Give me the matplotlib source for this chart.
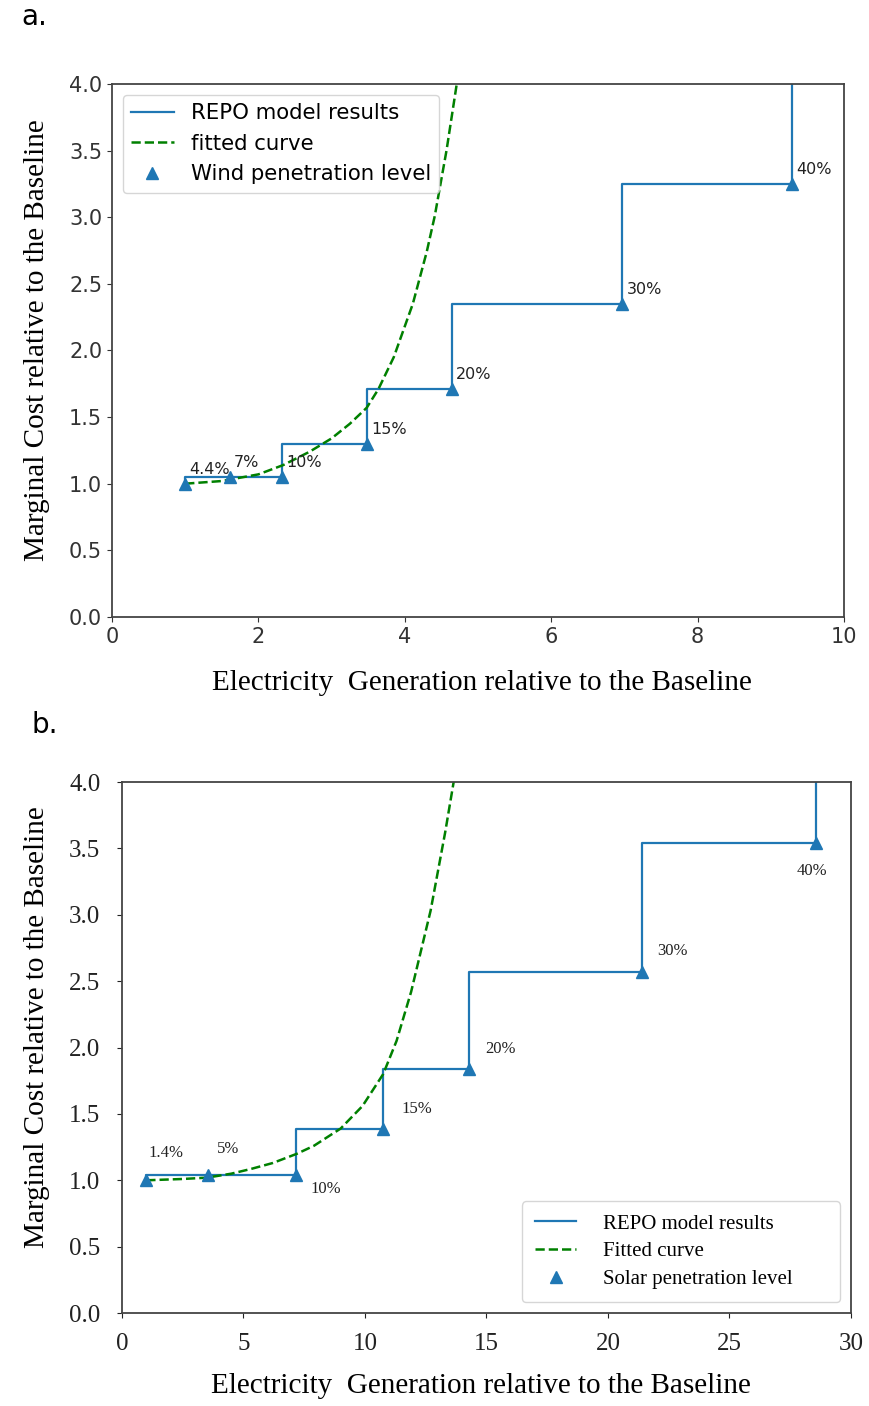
import matplotlib
matplotlib.use('Agg')
import matplotlib.pyplot as plt

# ---- panel a : wind ----
wind_gen = [1.0, 1.61, 2.32, 3.48, 4.64, 6.97, 9.29]
wind_cost = [1.0, 1.05, 1.05, 1.30, 1.71, 2.35, 3.25]
wind_pct = ['4.4%', '7%', '10%', '15%', '20%', '30%', '40%']
wind_next = [11.6, 4.6]          # next step, off the top of the axes

wind_fit_x = [1.0, 1.5, 2.0, 2.34, 2.7, 3.0, 3.25, 3.48, 3.64, 3.85,
              4.11, 4.3, 4.41, 4.57, 4.71, 4.78]
wind_fit_y = [1.0, 1.02, 1.07, 1.14, 1.24, 1.34, 1.45, 1.57, 1.71, 1.95,
              2.35, 2.74, 3.01, 3.5, 4.0, 4.3]

# ---- panel b : solar ----
solar_gen = [1.0, 3.55, 7.15, 10.75, 14.3, 21.4, 28.55]
solar_cost = [1.0, 1.04, 1.04, 1.39, 1.84, 2.57, 3.54]
solar_pct = ['1.4%', '5%', '10%', '15%', '20%', '30%', '40%']
solar_next = [34.0, 4.6]

solar_fit_x = [1.0, 2.5, 3.5, 4.5, 5.3, 6.2, 7.2, 7.9, 9.0, 9.9, 10.75,
               11.3, 11.9, 12.7, 13.3, 13.65, 13.8]
solar_fit_y = [1.0, 1.01, 1.02, 1.05, 1.085, 1.13, 1.20, 1.26, 1.39, 1.56,
               1.80, 2.05, 2.42, 3.03, 3.62, 4.0, 4.2]

BLUE = '#1f77b4'
GREEN = '#008000'
SERIF = 'Liberation Serif'

fig = plt.figure(figsize=(8.7, 14.06), dpi=100)

#========= panel a =========
ax = fig.add_axes([0.1287, 0.5612, 0.8414, 0.3791])
ax.step(wind_gen + [wind_next[0]], wind_cost + [wind_next[1]], where='pre',
        color=BLUE, lw=1.6, label='REPO model results')
ax.plot(wind_fit_x, wind_fit_y, '--', color=GREEN, lw=1.8, label='fitted curve')
ax.plot(wind_gen, wind_cost, '^', color=BLUE, ms=8, ls='none',
        label='Wind penetration level')
for x, y, s in zip(wind_gen, wind_cost, wind_pct):
    ax.annotate(s, (x, y), xytext=(3, 10.5), textcoords='offset points',
                ha='left', va='center', fontsize=11.5, color='#222222')
ax.set_xlim(0, 10)
ax.set_ylim(0, 4.0)
ax.set_xticks(range(0, 11, 2))
ax.set_yticks([i * 0.5 for i in range(9)])
ax.tick_params(labelsize=15, colors='#333333')
for sp in ax.spines.values():
    sp.set_color('#444444')
    sp.set_linewidth(1.3)
ax.legend(loc='upper left', fontsize=15.3, labelspacing=0.5, handlelength=2.0)
ax.set_xlabel('Electricity  Generation relative to the Baseline',
              family=SERIF, fontsize=21)
ax.set_ylabel('Marginal Cost relative to the Baseline', family=SERIF, fontsize=21)
ax.xaxis.set_label_coords(0.505, -0.124)
ax.xaxis.label.set_verticalalignment('center')
ax.yaxis.set_label_coords(-0.102, 0.52)
ax.yaxis.label.set_verticalalignment('center')

#========= panel b =========
bx = fig.add_axes([0.1402, 0.0661, 0.8379, 0.3777])
bx.step(solar_gen + [solar_next[0]], solar_cost + [solar_next[1]], where='pre',
        color=BLUE, lw=1.6, label='REPO model results')
bx.plot(solar_fit_x, solar_fit_y, '--', color=GREEN, lw=1.8, label='Fitted curve')
bx.plot(solar_gen, solar_cost, '^', color=BLUE, ms=8, ls='none',
        label='Solar penetration level')
solar_off = [(14, 20), (14, 19), (22, -10), (24, 14), (22, 14), (22, 15), (-3, -20)]
for x, y, s, off in zip(solar_gen, solar_cost, solar_pct, solar_off):
    bx.annotate(s, (x, y), xytext=off, textcoords='offset points',
                ha='center', va='center', fontsize=12, family=SERIF,
                color='#222222')
bx.set_xlim(0, 30)
bx.set_ylim(0, 4.0)
bx.set_xticks(range(0, 31, 5))
bx.set_yticks([i * 0.5 for i in range(9)])
bx.tick_params(labelsize=18, colors='#222222')
bx.tick_params(axis='y', pad=12)
bx.tick_params(axis='x', pad=11)
for lab in bx.get_xticklabels() + bx.get_yticklabels():
    lab.set_family(SERIF)
for sp in bx.spines.values():
    sp.set_color('#444444')
    sp.set_linewidth(1.3)
bx.legend(loc='lower left', bbox_to_anchor=(0.549, 0.021, 0.436, 0.2),
          mode='expand', borderaxespad=0, prop={'family': SERIF, 'size': 15},
          labelspacing=0.4, borderpad=0.6, handletextpad=1.3)
bx.set_xlabel('Electricity  Generation relative to the Baseline',
              family=SERIF, fontsize=21)
bx.set_ylabel('Marginal Cost relative to the Baseline', family=SERIF, fontsize=21)
bx.xaxis.set_label_coords(0.493, -0.137)
bx.xaxis.label.set_verticalalignment('center')
bx.yaxis.set_label_coords(-0.117, 0.538)
bx.yaxis.label.set_verticalalignment('center')

# panel letters
fig.text(0.040, 0.988, 'a.', fontsize=20, ha='center', va='center')
fig.text(0.052, 0.484, 'b.', fontsize=20, ha='center', va='center')

fig.savefig('out.png', dpi=100)
plt.close(fig)
